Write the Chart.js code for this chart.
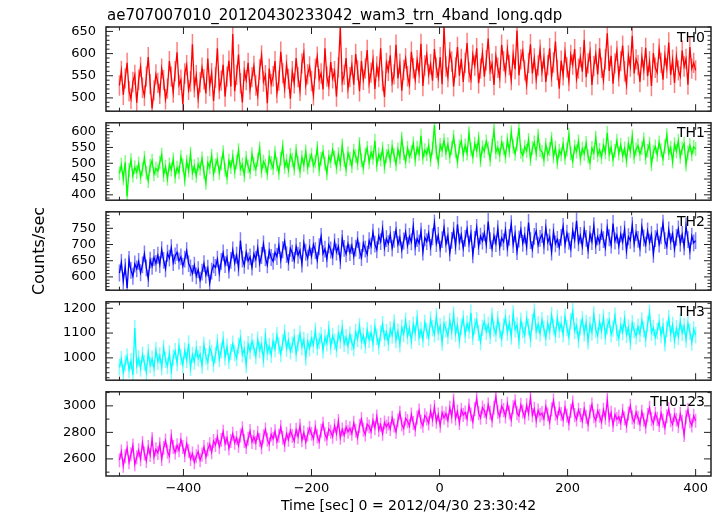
<!DOCTYPE html>
<html>
<head>
<meta charset="utf-8">
<script src="https://cdn.jsdelivr.net/npm/chart.js@4.4.1/dist/chart.umd.min.js"></script>
<style>
  html, body { margin: 0; padding: 0; background: #fff; }
  #wrap { position: relative; width: 721px; height: 516px; overflow: hidden; }
  #wrap canvas { position: absolute; left: 0; }
</style>
</head>
<body>
<div id="wrap">
  <canvas id="p0" width="721" height="129" style="top:0px"></canvas>
  <canvas id="p1" width="721" height="113" style="top:105px"></canvas>
  <canvas id="p2" width="721" height="114" style="top:194px"></canvas>
  <canvas id="p3" width="721" height="114" style="top:284px"></canvas>
  <canvas id="p4" width="721" height="142" style="top:374px"></canvas>
</div>
<script>
// light curve bins: 3 s apart, first bin at -500 s (one row = 30 s)
const tStart = -500;
const tStep = 3;

const th0 = [
  528, 561, 507, 544, 579, 515, 498, 536, 552, 489,
  541, 570, 523, 505, 548, 592, 531, 476, 517, 553,
  534, 509, 566, 540, 497, 521, 583, 548, 512, 560,
  603, 529, 541, 486, 555, 574, 518, 537, 621, 524,
  551, 499, 535, 568, 542, 510, 589, 527, 556, 493,
  546, 612, 520, 539, 575, 503, 548, 584, 526, 644,
  515, 552, 598, 533, 490, 561, 540, 579, 519, 547,
  572, 528, 505, 564, 596, 537, 551, 488, 566, 531,
  549, 583, 511, 539, 604, 556, 522, 575, 543, 498,
  560, 533, 590, 547, 516, 578, 601, 529, 553, 571,
  538, 506, 566, 593, 542, 555, 519, 612, 548, 527,
  581, 544, 560, 503, 569, 658, 536, 552, 590, 521,
  547, 574, 530, 599, 562, 515, 583, 541, 566, 608,
  533, 557, 586, 520, 571, 547, 612, 538, 502, 579,
  561, 596, 535, 553, 620, 544, 577, 516, 563, 589,
  549, 530, 604, 567, 541, 585, 556, 622, 527, 573,
  598, 553, 576, 539, 610, 568, 545, 592, 531, 660,
  571, 547, 603, 582, 526, 569, 615, 550, 588, 536,
  579, 624, 558, 541, 597, 573, 612, 533, 566, 601,
  548, 585, 634, 561, 577, 529, 594, 568, 545, 620,
  583, 556, 609, 574, 540, 598, 565, 652, 551, 587,
  606, 562, 530, 579, 621, 555, 589, 542, 573, 609,
  559, 590, 536, 574, 612, 548, 580, 627, 563, 521,
  584, 551, 603, 569, 538, 597, 575, 610, 543, 566,
  592, 559, 631, 547, 578, 604, 529, 572, 599, 553,
  612, 568, 540, 587, 646, 561, 595, 532, 578, 606,
  549, 583, 618, 560, 530, 596, 571, 640, 555, 587,
  574, 536, 592, 563, 613, 549, 582, 527, 601, 568,
  557, 611, 579, 541, 596, 567, 625, 552, 586, 534,
  593, 562, 548, 607, 571, 588, 530, 615, 566, 579,
  562
];

const th1 = [
  468, 495, 452, 503, 395, 478, 510, 461, 487, 472,
  499, 456, 481, 517, 470, 444, 492, 508, 465, 483,
  475, 502, 527, 463, 489, 451, 496, 480, 512, 458,
  486, 471, 520, 494, 448, 505, 477, 530, 469, 491,
  460, 497, 483, 515, 472, 438, 501, 487, 524, 466,
  493, 512, 470, 499, 535, 479, 455, 508, 488, 521,
  474, 503, 541, 482, 496, 462, 517, 490, 472, 529,
  498, 481, 511, 547, 476, 505, 492, 468, 520, 501,
  485, 533, 497, 470, 514, 552, 489, 508, 478, 526,
  511, 483, 540, 502, 475, 519, 495, 537, 486, 509,
  527, 492, 505, 548, 481, 514, 536, 499, 468, 521,
  506, 543, 518, 487, 529, 497, 556, 510, 481, 532,
  515, 491, 540, 522, 500, 561, 509, 486, 527, 548,
  503, 534, 517, 571, 495, 528, 512, 546, 489, 523,
  539, 508, 552, 526, 497, 544, 519, 578, 531, 505,
  548, 521, 536, 563, 512, 549, 530, 587, 518, 541,
  529, 556, 512, 547, 620, 535, 503, 558, 541, 572,
  533, 560, 521, 548, 583, 538, 505, 552, 570, 527,
  556, 531, 595, 544, 520, 562, 540, 578, 509, 551,
  538, 569, 547, 512, 557, 604, 535, 549, 526, 566,
  547, 521, 573, 540, 598, 553, 530, 561, 612, 536,
  525, 552, 539, 574, 513, 548, 566, 531, 587, 542,
  536, 512, 559, 528, 545, 578, 521, 549, 503, 540,
  528, 561, 517, 543, 590, 531, 507, 552, 537, 569,
  515, 546, 530, 564, 522, 501, 548, 533, 581, 526,
  542, 519, 557, 535, 596, 528, 550, 512, 539, 571,
  531, 558, 524, 547, 509, 562, 538, 585, 520, 544,
  556, 529, 548, 575, 518, 540, 562, 497, 536, 553,
  527, 566, 541, 514, 553, 589, 532, 549, 505, 560,
  538, 571, 520, 547, 562, 496, 534, 557, 528, 552,
  545
];

const th2 = [
  612, 645, 588, 631, 566, 654, 620, 602, 640, 625,
  648, 613, 637, 671, 628, 595, 652, 633, 660, 642,
  667, 638, 684, 651, 625, 673, 658, 690, 644, 665,
  676, 649, 662, 633, 655, 681, 641, 628, 611, 636,
  603, 622, 590, 615, 641, 606, 627, 581, 618, 637,
  629, 655, 612, 648, 674, 638, 660, 621, 651, 683,
  643, 667, 628, 712, 655, 636, 676, 649, 662, 630,
  671, 654, 690, 641, 666, 702, 659, 637, 681, 660,
  648, 676, 663, 697, 652, 684, 710, 669, 645, 688,
  673, 651, 694, 667, 682, 640, 705, 676, 658, 691,
  664, 700, 681, 651, 693, 725, 672, 686, 655, 699,
  683, 662, 708, 677, 694, 650, 719, 688, 671, 702,
  675, 697, 663, 689, 715, 681, 660, 704, 686, 670,
  712, 695, 738, 701, 684, 726, 709, 748, 690, 718,
  703, 731, 689, 716, 745, 700, 722, 683, 711, 739,
  697, 725, 708, 756, 692, 718, 704, 741, 677, 721,
  709, 735, 691, 724, 767, 703, 728, 686, 715, 752,
  701, 727, 674, 713, 744, 695, 762, 708, 730, 688,
  719, 748, 702, 734, 668, 716, 753, 694, 726, 711,
  736, 699, 771, 712, 687, 727, 703, 749, 691, 720,
  708, 744, 689, 722, 764, 700, 733, 678, 717, 746,
  704, 729, 693, 768, 712, 685, 725, 741, 698, 719,
  731, 696, 752, 707, 723, 677, 739, 702, 716, 691,
  722, 756, 699, 735, 710, 686, 743, 714, 773, 705,
  728, 694, 747, 719, 682, 733, 709, 758, 697, 724,
  706, 740, 715, 690, 752, 721, 698, 765, 711, 729,
  695, 732, 708, 747, 681, 724, 713, 760, 702, 737,
  716, 689, 754, 720, 699, 742, 707, 731, 670, 718,
  739, 701, 727, 766, 712, 694, 745, 709, 733, 686,
  722, 748, 704, 731, 693, 757, 715, 680, 726, 705,
  712
];

const th3 = [
  962, 995, 941, 978, 1006, 952, 987, 931, 1120, 969,
  998, 957, 1013, 980, 944, 1022, 971, 996, 958, 1031,
  985, 1009, 963, 1040, 992, 967, 1018, 948, 1001, 1027,
  979, 1046, 1004, 972, 1029, 991, 1058, 960, 1012, 985,
  1037, 998, 1015, 969, 1052, 1006, 983, 1041, 1020, 975,
  1011, 1063, 995, 1030, 1074, 1002, 1045, 988, 1023, 1057,
  1019, 999, 1048, 1081, 1014, 1036, 972, 1055, 1027, 1066,
  1040, 1007, 1073, 1031, 1054, 994, 1087, 1022, 1047, 1012,
  1068, 1035, 1091, 1049, 1015, 1062, 1102, 1038, 1071, 1026,
  1053, 1084, 1017, 1060, 1097, 1044, 1072, 1001, 1066, 1039,
  1078, 1052, 1110, 1043, 1069, 1091, 1030, 1082, 1059, 1117,
  1046, 1088, 1065, 1034, 1099, 1071, 1121, 1057, 1083, 1048,
  1094, 1062, 1040, 1105, 1076, 1129, 1067, 1089, 1051, 1112,
  1073, 1101, 1058, 1126, 1085, 1047, 1098, 1136, 1079, 1104,
  1061, 1115, 1090, 1143, 1072, 1107, 1055, 1122, 1096, 1150,
  1087, 1119, 1068, 1134, 1101, 1160, 1083, 1113, 1074, 1142,
  1109, 1081, 1155, 1120, 1095, 1167, 1103, 1128, 1062, 1138,
  1116, 1088, 1149, 1106, 1174, 1097, 1131, 1071, 1125, 1159,
  1093, 1138, 1110, 1182, 1085, 1127, 1152, 1100, 1064, 1121,
  1146, 1105, 1133, 1089, 1170, 1118, 1097, 1156, 1111, 1077,
  1128, 1163, 1102, 1140, 1086, 1179, 1115, 1132, 1069, 1150,
  1112, 1091, 1158, 1124, 1075, 1144, 1186, 1107, 1135, 1098,
  1153, 1117, 1081, 1139, 1106, 1172, 1124, 1092, 1161, 1113,
  1137, 1095, 1166, 1120, 1084, 1148, 1188, 1109, 1130, 1072,
  1123, 1156, 1099, 1141, 1067, 1134, 1103, 1175, 1114, 1090,
  1145, 1108, 1162, 1086, 1127, 1152, 1095, 1118, 1170, 1101,
  1079, 1131, 1104, 1158, 1093, 1123, 1065, 1140, 1111, 1087,
  1126, 1097, 1151, 1115, 1076, 1137, 1182, 1102, 1121, 1083,
  1108, 1144, 1092, 1129, 1059, 1117, 1160, 1096, 1133, 1070,
  1119, 1085, 1146, 1101, 1128, 1074, 1139, 1106, 1062, 1115,
  1092
];

const th0123 = [
  2590, 2655, 2548, 2620, 2680, 2575, 2635, 2700, 2560, 2612,
  2665, 2598, 2720, 2640, 2585, 2690, 2630, 2750, 2615, 2672,
  2645, 2710, 2600, 2682, 2738, 2655, 2621, 2770, 2690, 2648,
  2702, 2665, 2745, 2690, 2628, 2715, 2660, 2600, 2640, 2575,
  2620, 2655, 2590, 2632, 2690, 2615, 2672, 2710, 2650, 2735,
  2705, 2768, 2690, 2742, 2805, 2715, 2760, 2680, 2735, 2790,
  2722, 2758, 2700, 2776, 2830, 2735, 2690, 2752, 2810, 2728,
  2765, 2720, 2795, 2742, 2688, 2770, 2822, 2745, 2710, 2785,
  2752, 2808, 2730, 2775, 2840, 2760, 2705, 2790, 2745, 2815,
  2772, 2735, 2820, 2768, 2850, 2740, 2798, 2725, 2785, 2832,
  2790, 2752, 2838, 2770, 2730, 2812, 2865, 2785, 2752, 2826,
  2805, 2768, 2850, 2790, 2885, 2760, 2822, 2778, 2840, 2805,
  2830, 2790, 2872, 2812, 2760, 2848, 2900, 2820, 2785, 2862,
  2845, 2805, 2890, 2832, 2920, 2818, 2858, 2790, 2875, 2842,
  2868, 2825, 2910, 2852, 2805, 2890, 2948, 2860, 2830, 2905,
  2885, 2848, 2935, 2870, 2822, 2912, 2965, 2880, 2850, 2928,
  2905, 2868, 2960, 2895, 2992, 2880, 2935, 2850, 2948, 2910,
  2942, 2890, 2985, 2920, 3040, 2905, 2958, 2870, 2970, 2932,
  2950, 2902, 3002, 2935, 2880, 2975, 3055, 2945, 2910, 2988,
  2962, 2915, 3010, 2948, 2890, 2985, 3070, 2955, 2920, 2998,
  2968, 2920, 3015, 2950, 2895, 2990, 3035, 2945, 2925, 3008,
  2958, 2912, 3004, 2942, 3060, 2930, 2978, 2890, 2965, 2930,
  2945, 2902, 2995, 2935, 2875, 2972, 3040, 2940, 2908, 2980,
  2938, 2895, 2988, 2925, 2868, 2962, 3025, 2930, 2898, 2970,
  2930, 2885, 2978, 2918, 2860, 2955, 3010, 2922, 2890, 2962,
  2925, 2878, 2970, 2910, 3045, 2895, 2948, 2855, 2935, 2900,
  2918, 2870, 2962, 2905, 2850, 2940, 3000, 2912, 2878, 2952,
  2910, 2862, 2955, 2895, 2842, 2930, 2985, 2900, 2868, 2942,
  2902, 2855, 2945, 2888, 2835, 2922, 2975, 2892, 2860, 2932,
  2895, 2848, 2938, 2880, 2780, 2915, 2968, 2885, 2852, 2925,
  2888
];

// 1-sigma error per bin
const errors = [23, 22, 26, 33, 53];

const xMajorTicks = [-400, -200, 0, 200, 400];
const xMinorTicks = [-500, -300, -100, 100, 300];

const panelLabels = ['TH0', 'TH1', 'TH2', 'TH3', 'TH0123'];
const yTickLabels = [
  [500, 550, 600, 650],
  [400, 450, 500, 550, 600],
  [600, 650, 700, 750],
  [1000, 1100, 1200],
  [2600, 2800, 3000]
];
const yRanges = [[470, 660], [383, 628], [559, 801], [910, 1226], [2471, 3106]];
const yMinorStep = [10, 10, 10, 20, 100];

const series = [th0, th1, th2, th3, th0123];
const colors = ['#ff0000', '#00ff00', '#0000ff', '#00ffff', '#ff00ff'];
const errColors = ['rgba(255,0,0,0.5)', 'rgba(0,255,0,0.5)', 'rgba(0,0,255,0.5)',
                   'rgba(0,255,255,0.5)', 'rgba(255,0,255,0.5)'];

Chart.defaults.font.family = '"DejaVu Sans", sans-serif';
Chart.defaults.font.size = 13;
Chart.defaults.color = '#000';

// frame, inward ticks, error bars, panel label
const framePlugin = {
  id: 'frame',
  beforeDatasetsDraw(chart, args, o) {
    const {ctx, chartArea: a, scales: {x, y}} = chart;
    ctx.save();
    ctx.beginPath();
    ctx.rect(a.left, a.top, a.width, a.height);
    ctx.clip();
    ctx.strokeStyle = o.errColor;
    ctx.lineWidth = 1.5;
    ctx.beginPath();
    chart.data.datasets[0].data.forEach(p => {
      const px = x.getPixelForValue(p.x);
      ctx.moveTo(px, y.getPixelForValue(p.y - o.err));
      ctx.lineTo(px, y.getPixelForValue(p.y + o.err));
    });
    ctx.stroke();
    ctx.restore();
  },
  afterDraw(chart, args, o) {
    const {ctx, chartArea: a, scales: {x, y}} = chart;
    ctx.save();
    ctx.strokeStyle = '#222';
    ctx.lineWidth = 1;
    ctx.beginPath();
    const xt = (v, len) => {
      const px = x.getPixelForValue(v);
      ctx.moveTo(px, a.top); ctx.lineTo(px, a.top + len);
      ctx.moveTo(px, a.bottom); ctx.lineTo(px, a.bottom - len);
    };
    const yt = (v, len) => {
      const py = y.getPixelForValue(v);
      ctx.moveTo(a.left, py); ctx.lineTo(a.left + len, py);
      ctx.moveTo(a.right, py); ctx.lineTo(a.right - len, py);
    };
    xMajorTicks.forEach(v => xt(v, 7));
    xMinorTicks.forEach(v => xt(v, 3.5));
    for (let v = Math.ceil(y.min / o.minor) * o.minor; v <= y.max; v += o.minor) {
      yt(v, o.major.includes(v) ? 7 : 3.5);
    }
    ctx.stroke();
    ctx.lineWidth = 1.5;
    ctx.strokeRect(a.left, a.top, a.width, a.height);

    ctx.fillStyle = '#000';
    ctx.font = '14px "DejaVu Sans"';
    ctx.textAlign = 'right';
    ctx.textBaseline = 'middle';
    ctx.fillText(o.label, a.right - 6, a.top + 11);

    if (o.title) {
      ctx.font = '15px "DejaVu Sans"';
      ctx.textAlign = 'left';
      ctx.textBaseline = 'alphabetic';
      ctx.fillText(o.title, a.left + 1, 20);
    }
    if (o.yTitle) {
      ctx.translate(40, 57);
      ctx.rotate(-Math.PI / 2);
      ctx.font = '16px "DejaVu Sans"';
      ctx.textAlign = 'center';
      ctx.textBaseline = 'middle';
      ctx.fillText(o.yTitle, 0, 0);
    }
    ctx.restore();
  }
};

const pads = [
  {top: 27, bottom: 12}, {top: 12, bottom: 12}, {top: 12, bottom: 12},
  {top: 12, bottom: 12}, {top: 12, bottom: 0}
];

series.forEach((vals, i) => {
  const last = i === series.length - 1;
  new Chart(document.getElementById('p' + i), {
    type: 'line',
    data: {
      datasets: [{
        data: vals.map((v, k) => ({x: tStart + k * tStep, y: v})),
        borderColor: colors[i],
        borderWidth: 1.3,
        pointRadius: 0,
        tension: 0
      }]
    },
    options: {
      responsive: false,
      animation: false,
      devicePixelRatio: 1,
      layout: {padding: {left: 0, right: 10, top: pads[i].top, bottom: pads[i].bottom}},
      plugins: {
        legend: {display: false},
        tooltip: {enabled: false},
        frame: {
          label: panelLabels[i],
          err: errors[i],
          errColor: errColors[i],
          major: yTickLabels[i],
          minor: yMinorStep[i],
          title: i === 0 ? 'ae707007010_20120430233042_wam3_trn_4band_long.qdp' : null,
          yTitle: i === 2 ? 'Counts/sec' : null
        }
      },
      scales: {
        x: {
          type: 'linear',
          min: -521,
          max: 424,
          display: last,
          grid: {display: false, drawTicks: false},
          border: {display: false},
          afterBuildTicks: s => { s.ticks = xMajorTicks.map(v => ({value: v})); },
          afterFit: s => { s.height = last ? 40 : 0; },
          ticks: {
            padding: 5,
            maxRotation: 0,
            callback: v => String(v).replace('-', '\u2212')
          },
          title: {
            display: true,
            text: 'Time [sec] 0 = 2012/04/30 23:30:42',
            font: {size: 14},
            padding: {top: 0, bottom: 1}
          }
        },
        y: {
          type: 'linear',
          min: yRanges[i][0],
          max: yRanges[i][1],
          grid: {display: false, drawTicks: false},
          border: {display: false},
          afterBuildTicks: s => { s.ticks = yTickLabels[i].map(v => ({value: v})); },
          afterFit: s => { s.width = 106; },
          ticks: {padding: 10, callback: v => String(v)}
        }
      }
    },
    plugins: [framePlugin]
  });
});
</script>
</body>
</html>
